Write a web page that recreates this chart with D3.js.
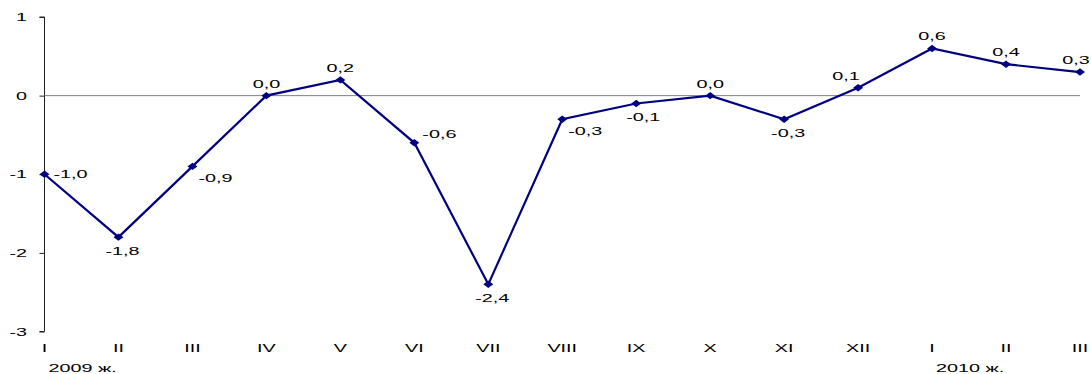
<!DOCTYPE html>
<html>
<head>
<meta charset="utf-8">
<script src="https://cdn.jsdelivr.net/npm/d3@7"></script>
<style>
  body { margin: 0; background: #fff; }
  text { font-family: "Liberation Sans", Arial, sans-serif; fill: #000; }
</style>
</head>
<body>
<svg id="chart"></svg>
<script>
// months, two years
var months = ["I","II","III","IV","V","VI","VII","VIII","IX","X","XI","XII","I","II","III"];
var values = [-1.0, -1.8, -0.9, 0.0, 0.2, -0.6, -2.4, -0.3, -0.1, 0.0, -0.3, 0.1, 0.6, 0.4, 0.3];
var yTicks = [1, 0, -1, -2, -3];
var years = [{label: "2009 ж.", at: 0}, {label: "2010 ж.", at: 12}];

// where each value label sits relative to its point
var labelPlace = ["r","b","br","t","t","tr","b","br","b","t","b","tl","t","t","t"];

var setup = {
  width: 1091,
  height: 374,
  left: 44.5,
  right: 1080,
  top: 17,
  bottom: 331.5,
  stretch: 1.8   // text in the picture is widened horizontally
};

var svg = d3.select("#chart")
  .attr("width", setup.width)
  .attr("height", setup.height);

var x = d3.scalePoint()
  .domain(d3.range(months.length))
  .range([setup.left, setup.right]);

var y = d3.scaleLinear()
  .domain([-3, 1])
  .range([setup.bottom, setup.top]);

var fmt = (v) => v.toFixed(1).replace(".", ",");

// helper: stretched text
function sText(g, tx, ty, str, anchor) {
  return g.append("text")
    .attr("transform", "translate(" + [tx, ty] + ") scale(" + setup.stretch + ",1)")
    .attr("text-anchor", anchor || "middle")
    .attr("font-size", 11)
    .text(str);
}

// y axis
var yAxis = d3.axisLeft(y)
  .tickValues(yTicks)
  .tickSize(5)
  .tickFormat("");

var ya = svg.append("g")
  .attr("transform", "translate(" + [setup.left, 0] + ")")
  .call(yAxis);
ya.select(".domain").attr("stroke", "#222").attr("d", "M-5," + y(1) + "H0V" + y(-3) + "H-5");
ya.selectAll(".tick line").attr("stroke", "#222");

yTicks.forEach(function(t) {
  sText(svg, 27, y(t) + 4, String(t), "end");
});

// zero line
svg.append("line")
  .attr("x1", setup.left).attr("x2", setup.right)
  .attr("y1", y(0)).attr("y2", y(0))
  .attr("stroke", "#808080")
  .attr("stroke-width", 1);

// x labels
months.forEach(function(m, i) {
  sText(svg, x(i), 352, m, "middle");
});
years.forEach(function(yr) {
  sText(svg, x(yr.at) + 4, 371.5, yr.label, "start");
});

// series line
var line = d3.line()
  .x((d, i) => x(i))
  .y((d) => y(d));

svg.append("path")
  .attr("d", line(values))
  .attr("fill", "none")
  .attr("stroke", "#000080")
  .attr("stroke-width", 2.2);

// markers (flat, wide diamonds)
var diamond = d3.symbol().type(d3.symbolDiamond).size(16);
svg.selectAll(".pt")
  .data(values)
  .enter().append("path")
  .attr("class", "pt")
  .attr("d", diamond)
  .attr("transform", (d, i) => "translate(" + [x(i), y(d)] + ") scale(2.3,1)")
  .attr("fill", "#000080");

// value labels
var offs = {
  r:  [9, 4, "start"],
  b:  [4, 18, "middle"],
  br: [6, 16, "start"],
  t:  [0, -8, "middle"],
  tr: [8, -5, "start"],
  tl: [-12, -8, "middle"]
};
values.forEach(function(v, i) {
  var o = offs[labelPlace[i]];
  var lx = x(i) + o[0];
  if (i === values.length - 1) lx -= 4;
  if (labelPlace[i] === "b" && i === 8) lx += 3;
  sText(svg, lx, y(v) + o[1], fmt(v), o[2]);
});
</script>
</body>
</html>
